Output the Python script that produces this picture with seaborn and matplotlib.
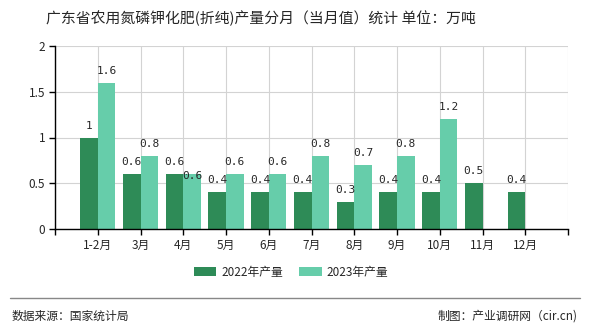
import matplotlib
matplotlib.use("Agg")
import matplotlib.pyplot as plt
import seaborn as sns
import pandas as pd
import numpy as np

months = ["1-2月", "3月", "4月", "5月", "6月", "7月", "8月", "9月", "10月", "11月", "12月"]
v2022 = [1, 0.6, 0.6, 0.4, 0.4, 0.4, 0.3, 0.4, 0.4, 0.5, 0.4]
v2023 = [1.6, 0.8, 0.6, 0.6, 0.6, 0.8, 0.7, 0.8, 1.2, None, None]
series = ["2022年产量", "2023年产量"]
colors = ["#2E8B57", "#66CDAA"]

rows = []
for m, a, b in zip(months, v2022, v2023):
    rows.append({"月份": m, "系列": series[0], "值": a})
    rows.append({"月份": m, "系列": series[1], "值": b if b is not None else np.nan})
df = pd.DataFrame(rows)

sns.set_theme(style="white")
plt.rcParams["font.family"] = ["Noto Sans CJK SC", "DejaVu Sans"]

fig = plt.figure(figsize=(5.9, 3.3), dpi=100)
ax = fig.add_axes([55/590, 1-229/330, (568-55)/590, (229-46)/330])

sns.barplot(data=df, x="月份", y="值", hue="系列", order=months, hue_order=series,
            palette=colors, width=0.82, saturation=1, linewidth=0, ax=ax, legend=True)

ax.set_xlim(-1, 11)
ax.set_ylim(0, 2)
ax.set_yticks([0, 0.5, 1, 1.5, 2])
ax.set_yticklabels(["0", "0.5", "1", "1.5", "2"], fontsize=8.5)
ax.set_xticks(range(-1, 12))
ax.set_xticklabels([""] + months + [""], fontsize=8.5)
ax.set_xlabel("")
ax.set_ylabel("")
ax.grid(True, color="#d3d3d3", linewidth=0.8)
ax.set_axisbelow(True)
for s in ["top", "right"]:
    ax.spines[s].set_visible(False)
for s in ["left", "bottom"]:
    ax.spines[s].set_color("black")
    ax.spines[s].set_linewidth(1)
ax.tick_params(axis="both", direction="out", length=4, width=1, color="black", pad=3, left=True, bottom=True)

bars22 = list(ax.containers[0])
bars23 = list(ax.containers[1])
for i, bar in enumerate(bars22):
    h = bar.get_height()
    ax.annotate(f"{h:g}", (bar.get_x() + bar.get_width()/2, h), xytext=(0, 5),
                textcoords="offset points", ha="center", va="bottom", fontsize=8,
                family=["DejaVu Sans Mono", "DejaVu Sans"])
for i, bar in enumerate(bars23):
    h = bar.get_height()
    if np.isnan(h) or h == 0:
        continue
    # when the 2022 label would collide, place the 2023 label just under the bar top
    if abs(h - v2022[i]) < 0.1:
        off, va = (2, "top")
    else:
        off, va = (5, "bottom")
    ax.annotate(f"{h:g}", (bar.get_x() + bar.get_width()/2, h), xytext=(0, off),
                textcoords="offset points", ha="center", va=va, fontsize=8,
                family=["DejaVu Sans Mono", "DejaVu Sans"])

leg = ax.legend(loc="center", bbox_to_anchor=(0.46, -0.235), ncol=2, frameon=False,
                fontsize=8.5, handlelength=1.9, handleheight=0.8, handletextpad=0.4,
                columnspacing=1.4)

fig.text(261/590, 1-18/330, "广东省农用氮磷钾化肥(折纯)产量分月（当月值）统计 单位：万吨",
         ha="center", va="center", fontsize=10.7)
fig.add_artist(plt.Line2D([10/590, 580/590], [1-298/330, 1-298/330], color="#888888", linewidth=1))
fig.text(12/590, 1-316/330, "数据来源：国家统计局", ha="left", va="center", fontsize=8.5)
fig.text(578/590, 1-316/330, "制图：产业调研网（cir.cn)", ha="right", va="center", fontsize=8.5)

fig.savefig("out.png", dpi=100)
